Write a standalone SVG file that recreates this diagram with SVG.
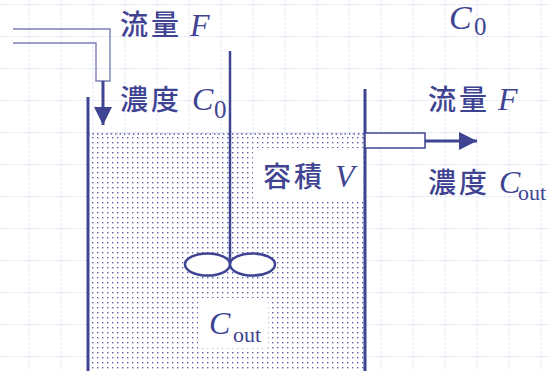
<svg xmlns="http://www.w3.org/2000/svg" width="550" height="371" viewBox="0 0 550 371">
  <defs>
    <!-- light dashed background grid -->
    <pattern id="grid" x="28.5" y="4" width="32" height="32" patternUnits="userSpaceOnUse">
      <path d="M0 0V32M0 0H32" fill="none" stroke="#dfe5f7" stroke-width="2" stroke-dasharray="3 1.5"/>
    </pattern>
    <!-- stippled liquid -->
    <pattern id="dots" x="0" y="0" width="5" height="5" patternUnits="userSpaceOnUse">
      <rect x="2" y="2" width="1.4" height="1.4" fill="#5c61a6"/>
    </pattern>
    <marker id="head" viewBox="0 0 10 10" refX="10" refY="5" markerWidth="6" markerHeight="6" markerUnits="strokeWidth" orient="auto">
      <path d="M0 0L10 5L0 10z" fill="#3f4492"/>
    </marker>
    <style>
      .wall{stroke:#3f4492;stroke-width:3;fill:none}
      .pipe{stroke:#7a7fb6;stroke-width:1.4;fill:none}
      .cjk{font-family:"Noto Sans CJK JP","Noto Sans",sans-serif;font-size:28px;font-weight:500;fill:#3f4492;letter-spacing:3px}
      .it{font-family:"Liberation Serif",serif;font-style:italic;font-size:32px;fill:#3f4492}
      .sub{font-family:"Liberation Serif",serif;font-size:25px;fill:#3f4492}
      .sub-s{font-size:22px}
      .big{font-size:34px}
    </style>
  </defs>

  <rect width="550" height="371" fill="#ffffff"/>
  <rect width="550" height="371" fill="url(#grid)"/>

  <!-- tank contents -->
  <g id="liquid">
    <rect x="88" y="133" width="277" height="238" fill="#ffffff"/>
    <rect x="88" y="133" width="277" height="238" fill="url(#dots)"/>
    <line x1="88" y1="134" x2="365" y2="134" stroke="#5c61a6" stroke-width="1.5" stroke-dasharray="1.5 3"/>
  </g>

  <g id="tank">
    <line class="wall" x1="88" y1="97" x2="88" y2="371"/>
    <line class="wall" x1="365" y1="89" x2="365" y2="371"/>
  </g>

  <g id="stirrer">
    <line x1="230" y1="51" x2="230" y2="264" stroke="#3f4492" stroke-width="2.5"/>
    <ellipse cx="207.5" cy="264.5" rx="22.5" ry="11" fill="#ffffff" stroke="#3f4492" stroke-width="2.5"/>
    <ellipse cx="252.5" cy="264.5" rx="22.5" ry="11" fill="#ffffff" stroke="#3f4492" stroke-width="2.5"/>
  </g>

  <g id="inlet">
    <path class="pipe" d="M13 29H110V81H96V43H13"/>
  </g>

  <g id="outlet">
    <rect x="365" y="133" width="60" height="15" fill="#ffffff" stroke="#3f4492" stroke-width="1.5"/>
  </g>

  <g id="connectors">
    <line x1="103" y1="81" x2="103" y2="125" stroke="#3f4492" stroke-width="3" marker-end="url(#head)"/>
    <line x1="425" y1="141" x2="477" y2="141" stroke="#3f4492" stroke-width="3" marker-end="url(#head)"/>
  </g>

  <g id="label-feed">
    <text class="cjk" x="120" y="35">流量</text>
    <text class="it" x="190" y="36">F</text>
    <text class="cjk" x="120" y="110">濃度</text>
    <text class="it" x="192" y="110">C</text>
    <text class="sub" x="214" y="118">0</text>
  </g>

  <g id="label-c0">
    <text class="it big" x="449" y="29">C</text>
    <text class="sub" x="474" y="35">0</text>
  </g>

  <g id="label-out">
    <text class="cjk" x="428" y="110">流量</text>
    <text class="it" x="498" y="110">F</text>
    <text class="cjk" x="428" y="193">濃度</text>
    <text class="it" x="499" y="193">C</text>
    <text class="sub sub-s" x="518" y="200">out</text>
  </g>

  <g id="label-volume">
    <rect x="253" y="148" width="110" height="51" fill="#ffffff"/>
    <text class="cjk" x="263" y="187">容積</text>
    <text class="it" x="335" y="187">V</text>
  </g>

  <g id="label-cout">
    <rect x="198" y="298" width="70" height="50" fill="#ffffff"/>
    <text class="it" x="209" y="334">C</text>
    <text class="sub sub-s" x="233" y="342">out</text>
  </g>
</svg>
